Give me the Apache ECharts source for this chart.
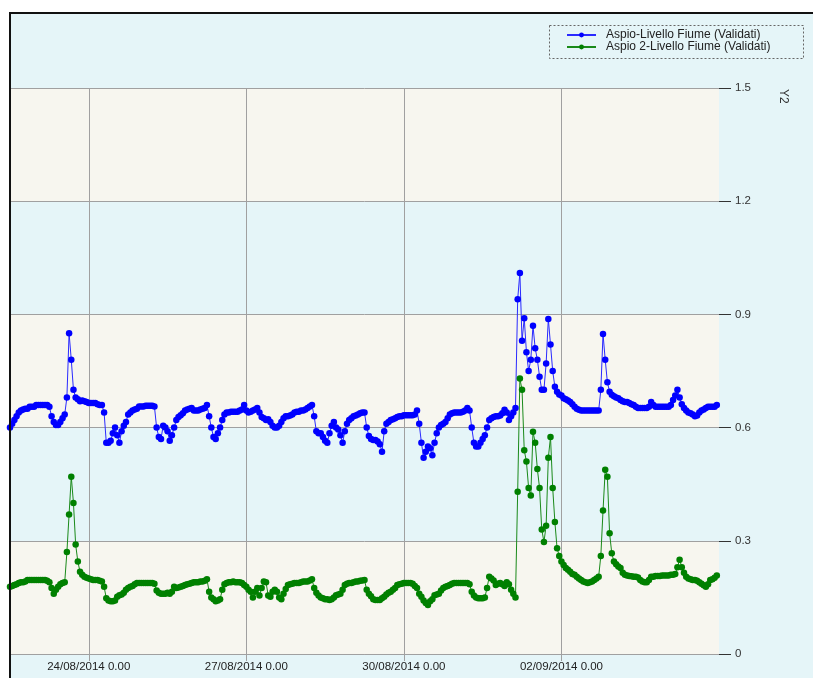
<!DOCTYPE html>
<html>
<head>
<meta charset="utf-8">
<title>Aspio - Livello Fiume</title>
<script src="https://cdn.jsdelivr.net/npm/echarts@6/dist/echarts.min.js"></script>
<style>
  html, body { margin: 0; padding: 0; background: #fff; width: 813px; height: 678px; overflow: hidden; }
  #bg { position: absolute; left: 9px; top: 12px; right: 0; bottom: 0; background: #e5f5f8; }
  #chart { position: absolute; left: 0; top: 0; width: 813px; height: 678px; }
  #frame { position: absolute; left: 9px; top: 12px; width: 804px; height: 666px; border-left: 2px solid #111;
           border-top: 2px solid #111; box-sizing: border-box; pointer-events: none; }
</style>
</head>
<body>
<div id="bg"></div>
<div id="chart"></div>
<div id="frame"></div>
<script>
// hourly readings, first one at 22/08/2014 12.00
var startTime = new Date(2014, 7, 22, 12, 0, 0);
var hours = 325; // up to 05/09/2014 0.00

var tickLabels = ['24/08/2014 0.00', '27/08/2014 0.00', '30/08/2014 0.00', '02/09/2014 0.00'];
var seriesNames = ['Aspio-Livello Fiume (Validati)', 'Aspio 2-Livello Fiume (Validati)'];

// one row = 12 hours
var aspio = [
  0.60, 0.61, 0.62, 0.63, 0.64, 0.645, 0.648, 0.65, 0.65, 0.655, 0.655, 0.655,
  0.66, 0.66, 0.66, 0.66, 0.66, 0.66, 0.655, 0.63, 0.615, 0.607, 0.607, 0.615,
  0.625, 0.635, 0.68, 0.85, 0.78, 0.70, 0.68, 0.675, 0.67, 0.672, 0.67, 0.668,
  0.665, 0.665, 0.665, 0.665, 0.662, 0.66, 0.66, 0.64, 0.56, 0.56, 0.565, 0.585,
  0.60, 0.58, 0.56, 0.59, 0.605, 0.615, 0.635, 0.64, 0.645, 0.648, 0.65, 0.656,
  0.656, 0.656, 0.658, 0.658, 0.658, 0.658, 0.656, 0.60, 0.575, 0.57, 0.605, 0.60,
  0.59, 0.565, 0.58, 0.60, 0.62, 0.628, 0.633, 0.638, 0.645, 0.648, 0.65, 0.652,
  0.645, 0.645, 0.645, 0.648, 0.65, 0.652, 0.66, 0.63, 0.60, 0.575, 0.57, 0.585,
  0.60, 0.62, 0.635, 0.64, 0.64, 0.642, 0.642, 0.642, 0.642, 0.645, 0.648, 0.66,
  0.645, 0.64, 0.642, 0.645, 0.648, 0.652, 0.64, 0.628, 0.625, 0.62, 0.622, 0.615,
  0.605, 0.60, 0.60, 0.605, 0.615, 0.625, 0.63, 0.63, 0.632, 0.635, 0.64, 0.642,
  0.642, 0.645, 0.645, 0.648, 0.652, 0.656, 0.66, 0.63, 0.59, 0.585, 0.585, 0.575,
  0.565, 0.56, 0.585, 0.605, 0.615, 0.60, 0.595, 0.58, 0.56, 0.59, 0.61, 0.62,
  0.625, 0.63, 0.632, 0.635, 0.638, 0.64, 0.64, 0.60, 0.578, 0.57, 0.567, 0.567,
  0.563, 0.556, 0.536, 0.59, 0.61, 0.615, 0.62, 0.622, 0.625, 0.628, 0.63, 0.63,
  0.633, 0.633, 0.633, 0.633, 0.633, 0.635, 0.645, 0.61, 0.56, 0.52, 0.536, 0.55,
  0.545, 0.527, 0.56, 0.585, 0.60, 0.607, 0.61, 0.615, 0.625, 0.635, 0.638, 0.64,
  0.64, 0.64, 0.64, 0.642, 0.645, 0.652, 0.645, 0.60, 0.56, 0.55, 0.55, 0.56,
  0.57, 0.58, 0.60, 0.62, 0.625, 0.628, 0.63, 0.63, 0.632, 0.638, 0.647, 0.64,
  0.62, 0.63, 0.64, 0.652, 0.94, 1.01, 0.83, 0.89, 0.80, 0.75, 0.78, 0.87,
  0.81, 0.78, 0.735, 0.70, 0.70, 0.77, 0.888, 0.82, 0.75, 0.708, 0.695, 0.688,
  0.685, 0.678, 0.675, 0.672, 0.668, 0.662, 0.655, 0.65, 0.647, 0.645, 0.645, 0.645,
  0.645, 0.645, 0.645, 0.645, 0.645, 0.645, 0.70, 0.848, 0.78, 0.72, 0.695, 0.687,
  0.683, 0.68, 0.678, 0.673, 0.67, 0.668, 0.668, 0.665, 0.662, 0.66, 0.655, 0.652,
  0.652, 0.652, 0.652, 0.652, 0.655, 0.668, 0.66, 0.655, 0.655, 0.655, 0.655, 0.655,
  0.655, 0.655, 0.66, 0.673, 0.685, 0.70, 0.68, 0.662, 0.652, 0.645, 0.64, 0.638,
  0.635, 0.63, 0.632, 0.64, 0.645, 0.648, 0.652, 0.655, 0.655, 0.655, 0.655, 0.66
];

var aspio2 = [
  0.178, 0.18, 0.183, 0.185, 0.188, 0.19, 0.19, 0.192, 0.196, 0.196, 0.196, 0.196,
  0.196, 0.196, 0.196, 0.196, 0.196, 0.194, 0.19, 0.175, 0.16, 0.17, 0.178, 0.185,
  0.188, 0.19, 0.27, 0.37, 0.47, 0.40, 0.29, 0.245, 0.218, 0.21, 0.205, 0.202,
  0.20, 0.198, 0.196, 0.196, 0.196, 0.194, 0.192, 0.178, 0.148, 0.142, 0.14, 0.14,
  0.142, 0.152, 0.156, 0.158, 0.162, 0.17, 0.175, 0.178, 0.18, 0.185, 0.188, 0.188,
  0.188, 0.188, 0.188, 0.188, 0.188, 0.188, 0.186, 0.168, 0.162, 0.16, 0.16, 0.16,
  0.162, 0.16, 0.165, 0.178, 0.175, 0.176, 0.178, 0.18, 0.183, 0.185, 0.186, 0.188,
  0.19, 0.19, 0.19, 0.192, 0.192, 0.194, 0.198, 0.165, 0.15, 0.145, 0.14, 0.142,
  0.145, 0.17, 0.185, 0.188, 0.19, 0.19, 0.192, 0.19, 0.19, 0.19, 0.188, 0.183,
  0.178, 0.17, 0.165, 0.15, 0.165, 0.175, 0.155, 0.175, 0.192, 0.19, 0.155, 0.152,
  0.165, 0.17, 0.165, 0.15, 0.145, 0.16, 0.172, 0.183, 0.185, 0.186, 0.188, 0.188,
  0.188, 0.19, 0.192, 0.192, 0.192, 0.195, 0.198, 0.175, 0.162, 0.155, 0.15, 0.148,
  0.145, 0.145, 0.143, 0.145, 0.15, 0.156, 0.158, 0.16, 0.17, 0.183, 0.186, 0.188,
  0.188, 0.19, 0.192, 0.192, 0.194, 0.195, 0.196, 0.17, 0.16, 0.153, 0.145, 0.143,
  0.143, 0.143, 0.148, 0.152, 0.158, 0.162, 0.165, 0.17, 0.175, 0.183, 0.185, 0.186,
  0.188, 0.188, 0.188, 0.188, 0.186, 0.18, 0.175, 0.16, 0.152, 0.142, 0.135, 0.13,
  0.14, 0.145, 0.156, 0.158, 0.16, 0.168, 0.175, 0.178, 0.18, 0.183, 0.186, 0.188,
  0.188, 0.188, 0.188, 0.188, 0.188, 0.188, 0.185, 0.165, 0.155, 0.15, 0.148, 0.148,
  0.148, 0.15, 0.175, 0.205, 0.20, 0.195, 0.183, 0.186, 0.188, 0.185, 0.18, 0.19,
  0.185, 0.17, 0.16, 0.15, 0.43, 0.73, 0.70, 0.54, 0.51, 0.44, 0.42, 0.589,
  0.56, 0.49, 0.44, 0.33, 0.297, 0.34, 0.52, 0.575, 0.44, 0.35, 0.28, 0.26,
  0.245, 0.236, 0.228, 0.223, 0.218, 0.212, 0.21, 0.205, 0.20, 0.196, 0.192, 0.19,
  0.188, 0.19, 0.192, 0.196, 0.20, 0.205, 0.26, 0.38, 0.488, 0.47, 0.32, 0.267,
  0.245, 0.238, 0.232, 0.228, 0.215, 0.21, 0.208, 0.207, 0.206, 0.205, 0.205, 0.203,
  0.196, 0.192, 0.19, 0.19, 0.196, 0.205, 0.205, 0.207, 0.207, 0.207, 0.208, 0.208,
  0.208, 0.208, 0.21, 0.21, 0.212, 0.23, 0.25, 0.23, 0.215, 0.205, 0.20, 0.198,
  0.196, 0.196, 0.194, 0.19, 0.186, 0.182, 0.178, 0.185, 0.196, 0.198, 0.202, 0.208
];

function pad(n) { return n < 10 ? '0' + n : '' + n; }
function fmt(d) {
  return pad(d.getDate()) + '/' + pad(d.getMonth() + 1) + '/' + d.getFullYear() + ' ' + d.getHours() + '.' + pad(d.getMinutes());
}

var times = [];
for (var h = 0; h < hours; h++) {
  times.push(fmt(new Date(startTime.getTime() + h * 3600000)));
}

function isTick(i, v) { return tickLabels.indexOf(v) !== -1; }

var font = '"Liberation Sans", Arial, sans-serif';

var chart = echarts.init(document.getElementById('chart'));
chart.setOption({
  animation: false,
  backgroundColor: 'transparent',
  textStyle: { fontFamily: font },
  grid: { left: 10, right: 94, top: 88, bottom: 24 },
  legend: {
    orient: 'vertical',
    left: 566,
    top: 29,
    padding: 0,
    itemWidth: 29,
    itemHeight: 6,
    itemGap: 0,
    textStyle: { fontSize: 12, color: '#222', lineHeight: 12, padding: [0, 0, 0, 5] },
    data: seriesNames
  },
  graphic: [
    {
      type: 'rect',
      shape: { x: 549.5, y: 25.5, width: 254, height: 33 },
      style: { fill: 'none', stroke: '#666', lineWidth: 1, lineDash: [2, 2] }
    },
    {
      type: 'text',
      x: 783,
      y: 89,
      rotation: -Math.PI / 2,
      style: { text: 'Y2', fontSize: 12, fill: '#333', align: 'left', verticalAlign: 'middle',
               textAlign: 'left', textVerticalAlign: 'middle', fontFamily: font }
    }
  ],
  xAxis: {
    type: 'category',
    boundaryGap: false,
    data: times,
    axisLine: { lineStyle: { color: '#a0a0a0' } },
    axisTick: { interval: isTick, length: 7, lineStyle: { color: '#a0a0a0' } },
    axisLabel: { interval: isTick, margin: 7, fontSize: 11.5, color: '#222' },
    splitLine: { show: true, interval: isTick, lineStyle: { color: '#a0a0a0' } }
  },
  yAxis: {
    type: 'value',
    position: 'right',
    min: 0,
    max: 1.5,
    interval: 0.3,
    axisLine: { show: false },
    axisTick: { show: true, length: 12, lineStyle: { color: '#333' } },
    axisLabel: { margin: 16, fontSize: 11.5, color: '#333' },
    splitLine: { lineStyle: { color: '#a0a0a0' } },
    splitArea: { show: true, areaStyle: { color: ['#f7f6ef', '#e5f5f8'] } }
  },
  series: [
    {
      name: seriesNames[0],
      type: 'line',
      data: aspio,
      symbol: 'circle',
      symbolSize: 6.5,
      showAllSymbol: true,
      lineStyle: { width: 1, color: '#2a2aff' },
      itemStyle: { color: '#0000ff' }
    },
    {
      name: seriesNames[1],
      type: 'line',
      data: aspio2,
      symbol: 'circle',
      symbolSize: 6.5,
      showAllSymbol: true,
      lineStyle: { width: 1, color: '#1a8a1a' },
      itemStyle: { color: '#008000' }
    }
  ]
});
</script>
</body>
</html>
